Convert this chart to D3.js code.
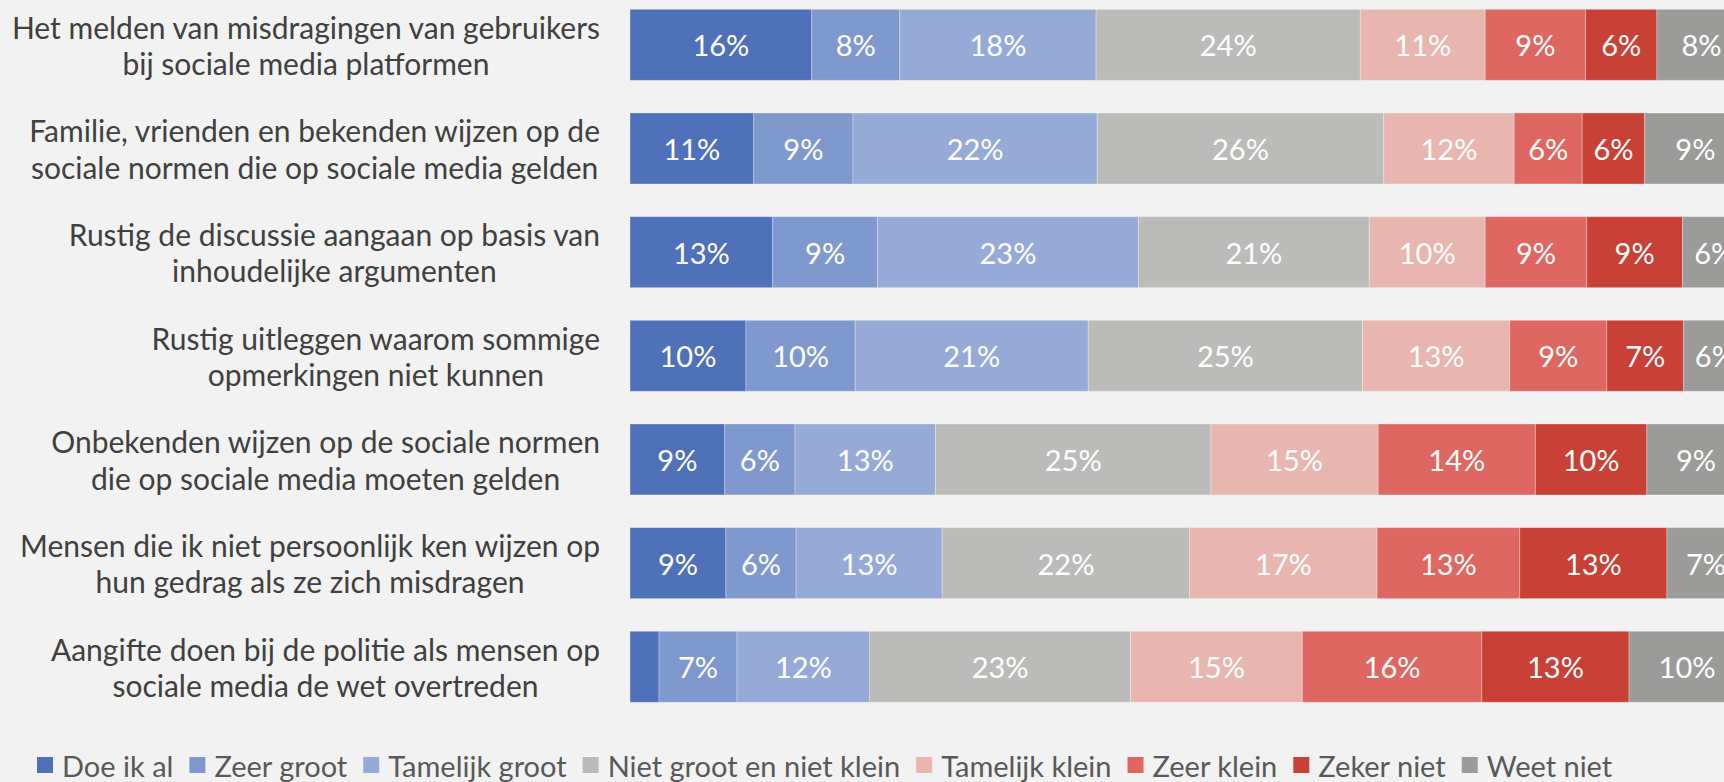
<!DOCTYPE html>
<html><head><meta charset="utf-8">
<script src="https://cdn.jsdelivr.net/npm/d3@7"></script>
<style>
html,body{margin:0;padding:0;background:#F2F2F2;overflow:hidden}
svg{display:block}
text{font-family:Lato,"Open Sans",sans-serif}
</style></head>
<body>
<svg id="chart" width="1724" height="782"></svg>
<script>
const categories = [
  ["Het melden van misdragingen van gebruikers","bij sociale media platformen"],
  ["Familie, vrienden en bekenden wijzen op de","sociale normen die op sociale media gelden"],
  ["Rustig de discussie aangaan op basis van","inhoudelijke argumenten"],
  ["Rustig uitleggen waarom sommige","opmerkingen niet kunnen"],
  ["Onbekenden wijzen op de sociale normen","die op sociale media moeten gelden"],
  ["Mensen die ik niet persoonlijk ken wijzen op","hun gedrag als ze zich misdragen"],
  ["Aangifte doen bij de politie als mensen op","sociale media de wet overtreden"]
];
const seriesNames = ["Doe ik al","Zeer groot","Tamelijk groot","Niet groot en niet klein","Tamelijk klein","Zeer klein","Zeker niet","Weet niet"];
const seriesColors = ["#4F71B9","#7F99CF","#96AAD7","#BBBBB9","#E8B6AE","#DF6761","#C84036","#9B9B99"];
const doeIkAl       = [16.3,11.1,12.8,10.4, 8.5, 8.6, 2.6];
const zeerGroot     = [ 7.9, 8.9, 9.4, 9.8, 6.3, 6.3, 7.0];
const tamelijkGroot = [17.6,21.9,23.4,20.9,12.6,13.1,11.9];
const nietGroot     = [23.7,25.7,20.7,24.6,24.7,22.2,23.4];
const tamelijkKlein = [11.2,11.7,10.4,13.2,15.0,16.8,15.4];
const zeerKlein     = [ 9.0, 6.1, 9.1, 8.7,14.1,12.8,16.1];
const zekerNiet     = [ 6.4, 5.6, 8.6, 6.9,10.0,13.2,13.2];
const weetNiet      = [ 8.0, 9.1, 5.7, 5.6, 8.8, 7.0,10.4];
const seriesValues = [doeIkAl,zeerGroot,tamelijkGroot,nietGroot,tamelijkKlein,zeerKlein,zekerNiet,weetNiet];

const svg = d3.select("#chart");
const rows = categories.map((c,i)=>{
  const r = {key:i};
  seriesNames.forEach((s,j)=> r[s]=seriesValues[j][i]);
  return r;
});
const stack = d3.stack().keys(seriesNames)(rows);

const x = d3.scaleLinear().domain([0,100]).range([630,1745]);
const y = d3.scaleBand().domain(d3.range(categories.length)).range([-7,718.6]).paddingInner(0.315).paddingOuter(0.1575);
const color = d3.scaleOrdinal().domain(seriesNames).range(seriesColors);

const g = svg.append("g");
stack.forEach((layer,j)=>{
  const lg = g.append("g").attr("fill",color(layer.key));
  lg.selectAll("rect").data(layer).join("rect")
    .attr("x",d=>x(d[0])).attr("width",d=>x(d[1])-x(d[0]))
    .attr("y",(d,i)=>y(i)).attr("height",y.bandwidth())
    .attr("stroke","rgba(255,255,255,0.3)").attr("stroke-width",1);
  lg.selectAll("text").data(layer.filter(d=>d[1]-d[0]>=4)).join("text")
    .attr("x",d=>x((d[0]+d[1])/2)).attr("y",d=>y(d.data.key)+y.bandwidth()/2)
    .attr("text-anchor","middle").attr("dominant-baseline","central")
    .attr("fill","#fff").style("font-size","29px")
    .text(d=>Math.round(d.data[layer.key])+"%");
});

// category labels
const labelRight = 600;
const lab = svg.append("g").attr("fill","#404040").style("font-size","30px");
categories.forEach((lines,i)=>{
  const cy = y(i)+y.bandwidth()/2;
  const tmp = lines.map(l=>lab.append("text").attr("text-anchor","middle").attr("dominant-baseline","central").text(l));
  const w = d3.max(tmp,t=>t.node().getComputedTextLength());
  tmp.forEach((t,k)=> t.attr("x",labelRight-w/2).attr("y",cy+(k-0.5)*36.5));
});

// legend
const leg = svg.append("g").attr("transform","translate(37,765)");
let lx = 0;
seriesNames.forEach(s=>{
  leg.append("rect").attr("x",lx).attr("y",-8).attr("width",16).attr("height",16).attr("fill",color(s));
  const t = leg.append("text").attr("x",lx+25).attr("y",0).attr("dominant-baseline","central")
    .attr("fill","#595959").style("font-size","29px").text(s);
  lx += 25 + t.node().getComputedTextLength() + 16;
});
</script>
</body></html>
